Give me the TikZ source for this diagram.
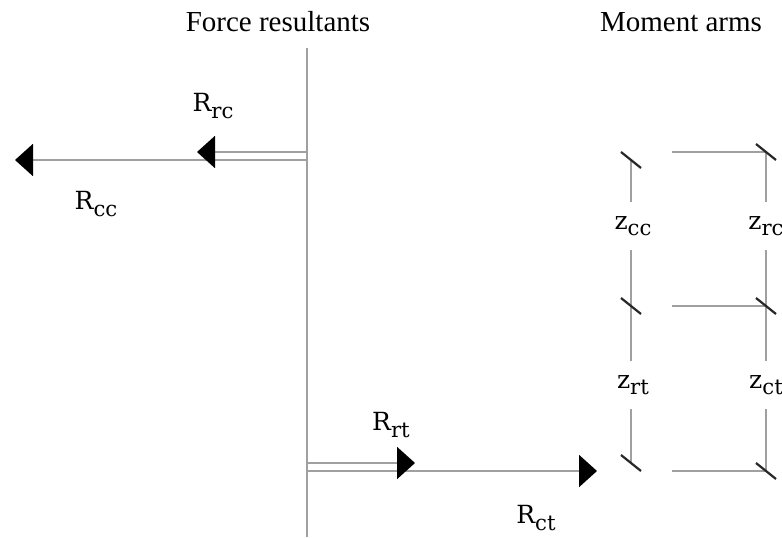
\documentclass[tikz,border=0pt]{standalone}
\usepackage{fontspec}
\setmainfont{Liberation Serif}
\newfontfamily\lblfont{DejaVu Serif}
\usetikzlibrary{positioning,arrows.meta}
\definecolor{linegray}{RGB}{160,160,160}
\definecolor{tickgray}{RGB}{40,40,40}
\newcommand{\sublbl}[2]{#1\raisebox{-0.5ex}{\scalebox{0.85}{#2}}}

\begin{document}
\begin{tikzpicture}[
    x=0.5pt, y=-0.5pt,
    line/.style={draw=linegray, line width=1pt},
    force/.style={line, -{Triangle[length=9pt,width=16pt,color=black]}},
    armtick/.style={draw=tickgray, line width=1.1pt},
    title/.style={font=\fontsize{14.5}{16}\selectfont},
    flbl/.style={font=\lblfont\fontsize{12.5}{15}\selectfont},
    zlbl/.style={flbl, inner sep=0pt, minimum height=24pt}
]
\useasboundingbox (0,0) rectangle (782,537);

% Titles
\node[title] (ftitle) at (278,22) {Force resultants};
\node[title] (mtitle) at (681,22) {Moment arms};

% Section line
\coordinate (wtop) at (307,48);
\coordinate (wbot) at (307,537);
\draw[line] (wtop) -- (wbot);

% Force resultants
\coordinate (rcbase) at (307,152);
\coordinate (rctip) at (197,152);
\coordinate (ccbase) at (307,160);
\coordinate (cctip) at (15,160);
\coordinate (rtbase) at (307,463);
\coordinate (rttip) at (415,463);
\coordinate (ctbase) at (307,471);
\coordinate (cttip) at (597,471);

\draw[force] (ccbase) -- (cctip);
\draw[force] (rcbase) -- (rctip);
\draw[force] (ctbase) -- (cttip);
\draw[force] (rtbase) -- (rttip);

\node[flbl] (Rrc) at (213,106) {\sublbl{R}{rc}};
\node[flbl] (Rcc) at (96,204) {\sublbl{R}{cc}};
\node[flbl] (Rrt) at (391,425) {\sublbl{R}{rt}};
\node[flbl] (Rct) at (536,518) {\sublbl{R}{ct}};

% Moment arms
\coordinate (lt1) at (631,160);
\coordinate (lt2) at (631,306);
\coordinate (lt3) at (631,463);
\coordinate (rt1) at (766,152);
\coordinate (rt2) at (766,306);
\coordinate (rt3) at (766,471);

\node[zlbl] (zcc) at (633,226) {\sublbl{z}{cc}};
\node[zlbl] (zrt) at (633,385) {\sublbl{z}{rt}};
\node[zlbl] (zrc) at (766,226) {\sublbl{z}{rc}};
\node[zlbl] (zct) at (766,385) {\sublbl{z}{ct}};

\draw[line] (lt1) -- (lt1 |- zcc.north);
\draw[line] (lt1 |- zcc.south) -- (lt1 |- zrt.north);
\draw[line] (lt1 |- zrt.south) -- (lt3);
\draw[line] (rt1) -- (zrc) -- (zct) -- (rt3);

\coordinate (h1) at (672,152);
\coordinate (h2) at (672,306);
\coordinate (h3) at (672,471);
\draw[line] (h1) -- (rt1);
\draw[line] (h2) -- (rt2);
\draw[line] (h3) -- (rt3);

\foreach \t in {lt1,lt2,lt3,rt1,rt2,rt3}
  \draw[armtick] (\t) ++(-10,-8) -- ++(20,16);
\end{tikzpicture}
\end{document}
